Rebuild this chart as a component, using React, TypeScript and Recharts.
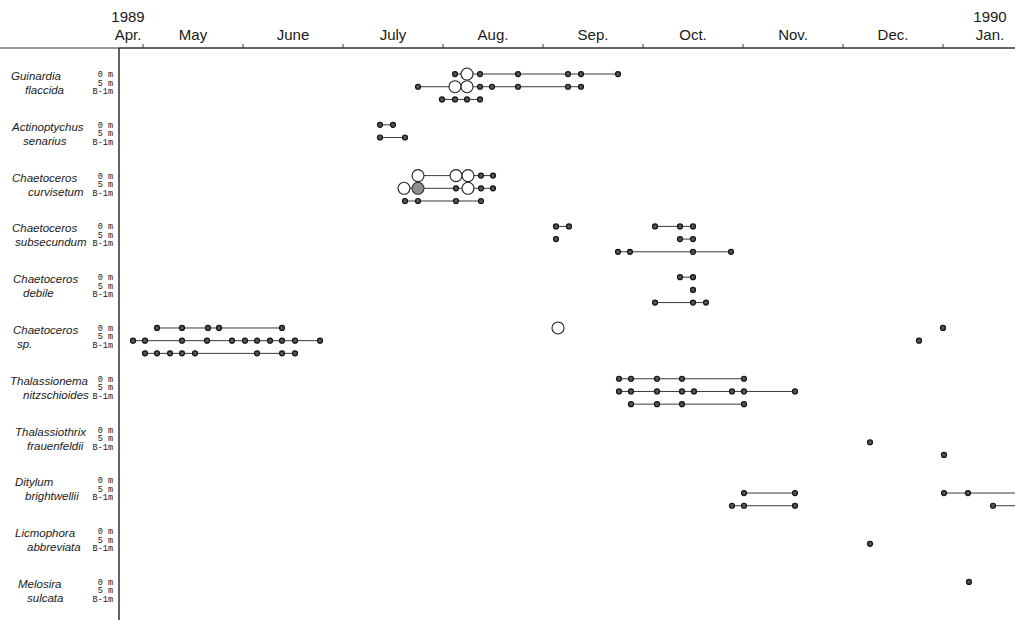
import React from "react"
import { ScatterChart, Scatter, XAxis, YAxis, ReferenceLine } from "recharts"

// x = months after 1 May 1989 (1 = May 1, 9 = Jan 1 1990)
// marks: plain number = small dot, 'o' = large open circle, 'g' = large grey circle,
// 'c' = line runs on past the frame (no mark)
type Mark = "s" | "o" | "g" | "c"
type Pt = number | [number, Mark]
type Row = Pt[][]

const species = [
  ["Guinardia", "flaccida"],
  ["Actinoptychus", "senarius"],
  ["Chaetoceros", "curvisetum"],
  ["Chaetoceros", "subsecundum"],
  ["Chaetoceros", "debile"],
  ["Chaetoceros", "sp."],
  ["Thalassionema", "nitzschioides"],
  ["Thalassiothrix", "frauenfeldii"],
  ["Ditylum", "brightwellii"],
  ["Licmophora", "abbreviata"],
  ["Melosira", "sulcata"],
]
const depths = ["0 m", "5 m", "B-1m"]

// left edge of each name line, px from the chart's left side
const genusIndent = [11, 12, 12, 12, 13, 13, 10, 15, 15, 15, 18]
const epithetIndent = [25, 23, 28, 15, 23, 17, 23, 27, 25, 27, 27]

const monthStarts = [1, 2, 3, 4, 5, 6, 7, 8, 9]
const monthLabelAt = [0.85, 1.5, 2.5, 3.5, 4.5, 5.5, 6.5, 7.5, 8.5, 9.47]
const monthNames = ["Apr.", "May", "June", "July", "Aug.", "Sep.", "Oct.", "Nov.", "Dec.", "Jan."]
const yearNames: Record<string, string> = { "Apr.": "1989", "Jan.": "1990" }

const guinardia: Row[] = [
  [[4.12, [4.24, "o"], 4.37, 4.75, 5.25, 5.38, 5.75]],
  [[3.75, [4.12, "o"], [4.24, "o"], 4.37, 4.49, 4.75, 5.25, 5.38]],
  [[3.99, 4.12, 4.24, 4.37]],
]
const actinoptychus: Row[] = [[[3.37, 3.5]], [[3.37, 3.62]], []]
const curvisetum: Row[] = [
  [[[3.75, "o"], [4.13, "o"], [4.25, "o"], 4.38, 4.5]],
  [[[3.61, "o"], [3.75, "g"], 4.13, [4.25, "o"], 4.38, 4.5]],
  [[3.62, 3.75, 4.13, 4.38]],
]
const subsecundum: Row[] = [
  [[5.13, 5.26], [6.12, 6.37, 6.5]],
  [[5.13], [6.37, 6.5]],
  [[5.75, 5.87, 6.5, 6.88]],
]
const debile: Row[] = [[[6.37, 6.5]], [[6.5]], [[6.12, 6.5, 6.63]]]
const chaetocerosSp: Row[] = [
  [[1.14, 1.39, 1.65, 1.76, 2.39], [[5.15, "o"]], [9.0]],
  [[0.9, 1.02, 1.39, 1.64, 1.89, 2.02, 2.14, 2.27, 2.39, 2.52, 2.77], [8.76]],
  [[1.02, 1.14, 1.27, 1.39, 1.52, 2.14, 2.39, 2.52]],
]
const thalassionema: Row[] = [
  [[5.76, 5.88, 6.14, 6.39, 7.01]],
  [[5.76, 5.88, 6.14, 6.39, 6.51, 6.89, 7.01, 7.52]],
  [[5.88, 6.14, 6.39, 7.01]],
]
const thalassiothrix: Row[] = [[], [[8.27]], [[9.01]]]
const ditylum: Row[] = [
  [],
  [[7.01, 7.52], [9.01, 9.25, [10.0, "c"]]],
  [[6.89, 7.01, 7.52], [9.5, [10.0, "c"]]],
]
const licmophora: Row[] = [[], [[8.27]], []]
const melosira: Row[] = [[[9.26]], [], []]

const table = [
  guinardia, actinoptychus, curvisetum, subsecundum, debile, chaetocerosSp,
  thalassionema, thalassiothrix, ditylum, licmophora, melosira,
]

const runs = table.flatMap((rows, i) =>
  rows.flatMap((row, j) =>
    row.map((run, n) => ({
      key: `${i}-${j}-${n}`,
      data: run.map((p) => {
        const [x, k] = typeof p === "number" ? [p, "s"] : p
        return { x, y: i * 4 + j, k }
      }),
    }))
  )
)

const speciesTicks = species.map((_, i) => i * 4)

function Dot(props: any) {
  const { cx, cy, payload } = props
  if (payload.k === "c") return <g />
  if (payload.k === "o") return <circle cx={cx} cy={cy} r={6} fill="#fff" stroke="#222" strokeWidth={1.1} />
  if (payload.k === "g") return <circle cx={cx} cy={cy} r={6} fill="#8e8e8e" stroke="#333" strokeWidth={1.1} />
  return <circle cx={cx} cy={cy} r={2.5} fill="#555" stroke="#111" strokeWidth={1.2} />
}

function MonthTick(props: any) {
  const { x, y, payload } = props
  const v = payload.value
  if (monthStarts.includes(v)) {
    return <line x1={x} x2={x} y1={y + 4} y2={y + 8} stroke="#333" strokeWidth={1} />
  }
  const name = monthNames[monthLabelAt.indexOf(v)]
  const year = yearNames[name]
  return (
    <g fontFamily="Liberation Sans, Arial, sans-serif" fontSize={15} fill="#1a1a1a" textAnchor="middle">
      {year && <text x={x} y={y - 18}>{year}</text>}
      <text x={x} y={y}>{name}</text>
    </g>
  )
}

function SpeciesTick(props: any) {
  const { x, y, payload } = props
  const i = payload.value / 4
  const [genus, epithet] = species[i]
  return (
    <g fill="#1a1a1a">
      <g fontFamily="Liberation Sans, Arial, sans-serif" fontStyle="italic" fontSize={11.5}>
        <text x={genusIndent[i]} y={y + 6}>{genus}</text>
        <text x={epithetIndent[i]} y={y + 20}>{epithet}</text>
      </g>
      <g fontFamily="Liberation Mono, monospace" fontSize={8.5} textAnchor="end">
        {depths.map((d, j) => (
          <text key={d} x={x} y={y + 3 + j * 8.5} xmlSpace="preserve">{d}</text>
        ))}
      </g>
    </g>
  )
}

export default function App() {
  return (
    <div style={{ position: "absolute", left: 0, top: 0, width: 1015, height: 620, background: "#fff" }}>
      <ScatterChart width={1015} height={620} margin={{ top: 8, right: 0, bottom: 0, left: 0 }}>
        <XAxis
          type="number"
          dataKey="x"
          orientation="top"
          height={40}
          domain={[0.76, 9.72]}
          allowDataOverflow
          ticks={[...monthStarts, ...monthLabelAt].sort((a, b) => a - b)}
          interval={0}
          tickSize={4}
          tickMargin={4}
          tickLine={false}
          tick={<MonthTick />}
          axisLine={{ stroke: "#333", strokeWidth: 1 }}
        />
        <YAxis
          type="number"
          dataKey="y"
          width={119}
          reversed
          domain={[-2.05, 43]}
          allowDataOverflow
          ticks={speciesTicks}
          interval={0}
          tickSize={0}
          tickMargin={6}
          tickLine={false}
          tick={<SpeciesTick />}
          axisLine={{ stroke: "#222", strokeWidth: 1.4 }}
        />
        <ReferenceLine
          segment={[{ x: -0.43, y: -2.05 }, { x: 9.72, y: -2.05 }]}
          ifOverflow="visible"
          stroke="#333"
          strokeWidth={1}
        />
        {runs.map((r) => (
          <Scatter
            key={r.key}
            data={r.data}
            line={{ stroke: "#3a3a3a", strokeWidth: 1 }}
            shape={Dot}
            isAnimationActive={false}
          />
        ))}
      </ScatterChart>
    </div>
  )
}
